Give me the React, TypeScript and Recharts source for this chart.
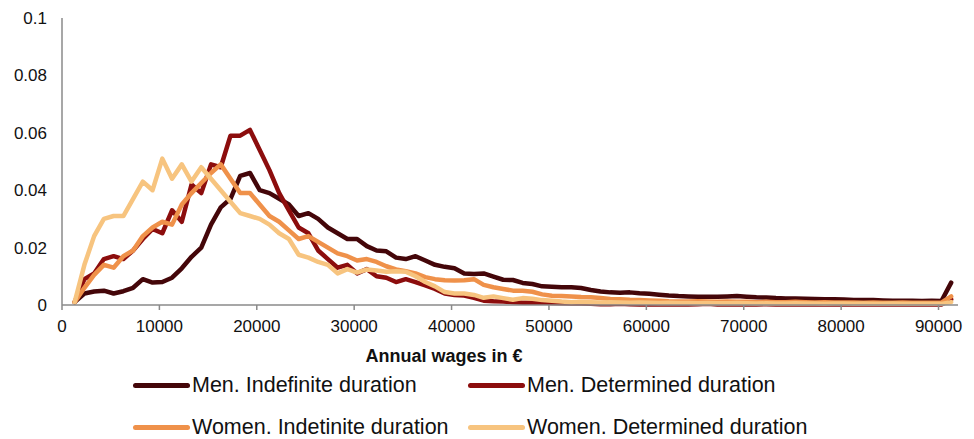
import { LineChart, Line, XAxis, YAxis } from "recharts";

// wage bins (€), one point per 1000 €
const wages = [
  1300, 2300, 3300, 4300, 5300, 6300, 7300, 8300, 9300, 10300,
  11300, 12300, 13300, 14300, 15300, 16300, 17300, 18300, 19300, 20300,
  21300, 22300, 23300, 24300, 25300, 26300, 27300, 28300, 29300, 30300,
  31300, 32300, 33300, 34300, 35300, 36300, 37300, 38300, 39300, 40300,
  41300, 42300, 43300, 44300, 45300, 46300, 47300, 48300, 49300, 50300,
  51300, 52300, 53300, 54300, 55300, 56300, 57300, 58300, 59300, 60300,
  61300, 62300, 63300, 64300, 65300, 66300, 67300, 68300, 69300, 70300,
  71300, 72300, 73300, 74300, 75300, 76300, 77300, 78300, 79300, 80300,
  81300, 82300, 83300, 84300, 85300, 86300, 87300, 88300, 89300, 90300,
  91300,
];

const menIndef = [
  0.001, 0.004, 0.0047, 0.005, 0.004, 0.0048, 0.006, 0.009, 0.0078, 0.008,
  0.0095, 0.0128, 0.0168, 0.02, 0.028, 0.034, 0.037, 0.045, 0.046, 0.04,
  0.039, 0.037, 0.035, 0.031, 0.032, 0.03, 0.027, 0.025, 0.023, 0.023,
  0.0205, 0.019, 0.0187, 0.0165, 0.016, 0.017, 0.0155, 0.014, 0.0133, 0.0128,
  0.011, 0.0108, 0.011, 0.0099, 0.0088, 0.0087, 0.0077, 0.0073, 0.0065, 0.0064,
  0.0062, 0.0062, 0.0059, 0.0052, 0.0047, 0.0044, 0.0043, 0.0044, 0.0041, 0.0039,
  0.0036, 0.0033, 0.0031, 0.003, 0.0029, 0.0029, 0.0029, 0.003, 0.0031, 0.0029,
  0.0027, 0.0026, 0.0024, 0.0023, 0.0023, 0.0022, 0.0021, 0.002, 0.002, 0.0019,
  0.0017, 0.0017, 0.0017, 0.0016, 0.0015, 0.0015, 0.0015, 0.0014, 0.0015, 0.0014,
  0.0078,
];

const menDet = [
  0.001, 0.009, 0.011, 0.016, 0.017, 0.016, 0.019, 0.023, 0.0265, 0.025,
  0.033, 0.029, 0.042, 0.039, 0.049, 0.048, 0.059, 0.059, 0.061, 0.054,
  0.047, 0.039, 0.033, 0.027, 0.025, 0.019, 0.016, 0.013, 0.014, 0.011,
  0.0125, 0.01, 0.0095, 0.008, 0.009, 0.008, 0.0068, 0.0056, 0.004, 0.0035,
  0.0033, 0.0025, 0.0015, 0.0013, 0.0012, 0.001, 0.0008, 0.0008, 0.0009, 0.0007,
  0.0006, 0.0005, 0.0005, 0.0004, 0.0003, 0.0003, 0.0004, 0.0003, 0.0002, 0.0002,
  0.0003, 0.0002, 0.0003, 0.0002, 0.0003, 0.0004, 0.0002, 0.0003, 0.0002, 0.0003,
  0.0002, 0.0003, 0.0002, 0.0002, 0.0003, 0.0002, 0.0002, 0.0003, 0.0002, 0.0002,
  0.0003, 0.0002, 0.0002, 0.0003, 0.0002, 0.0002, 0.0002, 0.0003, 0.0002, 0.0002,
  0.002,
];

const womenIndef = [
  0.001, 0.006, 0.0105, 0.014, 0.013, 0.017, 0.019, 0.024, 0.027, 0.029,
  0.028, 0.035, 0.039, 0.0425, 0.046, 0.049, 0.044, 0.039, 0.039, 0.035,
  0.031, 0.029, 0.026, 0.023, 0.024, 0.022, 0.02, 0.018, 0.017, 0.0155,
  0.016, 0.015, 0.0135, 0.0124, 0.0118, 0.011, 0.0097, 0.009, 0.0086, 0.0085,
  0.0086, 0.009, 0.007, 0.0062, 0.0056, 0.005, 0.005, 0.0046, 0.0037, 0.0032,
  0.0031, 0.003, 0.0028, 0.0027, 0.0024, 0.0021, 0.002, 0.0018, 0.0017, 0.0016,
  0.0015, 0.0013, 0.0012, 0.0012, 0.0013, 0.0012, 0.0011, 0.0012, 0.0011, 0.0011,
  0.001, 0.0011, 0.001, 0.001, 0.0011, 0.001, 0.0009, 0.001, 0.0009, 0.0009,
  0.0009, 0.0008, 0.0009, 0.0008, 0.0008, 0.0009, 0.0008, 0.0008, 0.0008, 0.0008,
  0.003,
];

const womenDet = [
  0.001, 0.014, 0.024, 0.03, 0.031, 0.031, 0.037, 0.043, 0.04, 0.051,
  0.044, 0.049, 0.043, 0.048, 0.044, 0.04, 0.036, 0.032, 0.031, 0.03,
  0.028, 0.025, 0.023, 0.0175, 0.0165, 0.015, 0.014, 0.011, 0.0125, 0.0113,
  0.0124, 0.012, 0.0116, 0.0118, 0.0116, 0.01, 0.008, 0.0065, 0.0045, 0.004,
  0.004, 0.0035, 0.0025, 0.003, 0.0024, 0.0018, 0.0024, 0.0022, 0.0017, 0.0015,
  0.0012, 0.001, 0.0011, 0.001, 0.0009, 0.001, 0.0009, 0.0008, 0.0009, 0.0008,
  0.0007, 0.0008, 0.0007, 0.0007, 0.0006, 0.0007, 0.0006, 0.0006, 0.0007, 0.0006,
  0.0005, 0.0006, 0.0005, 0.0005, 0.0006, 0.0005, 0.0005, 0.0004, 0.0005, 0.0005,
  0.0004, 0.0005, 0.0004, 0.0004, 0.0005, 0.0004, 0.0004, 0.0004, 0.0004, 0.0004,
  0.001,
];

const xTicks = [0, 10000, 20000, 30000, 40000, 50000, 60000, 70000, 80000, 90000];
const yTicks = [0, 0.02, 0.04, 0.06, 0.08, 0.1];

const series = [
  { key: "menIndef", name: "Men. Indefinite duration", color: "#440609" },
  { key: "menDet", name: "Men. Determined duration", color: "#8c0d0d" },
  { key: "womenIndef", name: "Women. Indetinite duration", color: "#ef914a" },
  { key: "womenDet", name: "Women. Determined duration", color: "#f7c47f" },
];

const data = wages.map((wage, i) => ({
  wage,
  menIndef: menIndef[i],
  menDet: menDet[i],
  womenIndef: womenIndef[i],
  womenDet: womenDet[i],
}));

const font = '"Liberation Sans", Arial, sans-serif';
const axisColor = "#8a8a8a";

export default function App() {
  return (
    <div style={{ position: "relative", width: 960, height: 431, fontFamily: font }}>
      <LineChart width={960} height={360} data={data} margin={{ top: 10, right: 10, bottom: 3, left: 0 }}>
        <XAxis
          dataKey="wage"
          type="number"
          domain={[0, 92000]}
          ticks={xTicks}
          interval={0}
          height={60}
          tickSize={5}
          tickMargin={10}
          axisLine={{ stroke: axisColor, strokeWidth: 1.5 }}
          tickLine={{ stroke: axisColor, strokeWidth: 1.5 }}
          tick={{ fill: "#111", fontSize: 17, fontFamily: font }}
          label={{
            value: "Annual wages in €",
            position: "insideBottom",
            offset: 3,
            dx: -66,
            style: { fill: "#111", fontSize: 18, fontWeight: "bold", fontFamily: font },
          }}
        />
        <YAxis
          domain={[0, 0.1]}
          ticks={yTicks}
          interval={0}
          width={54}
          tickLine={false}
          tickSize={6}
          tickMargin={9}
          axisLine={{ stroke: axisColor, strokeWidth: 1.5 }}
          tick={{ fill: "#111", fontSize: 17, fontFamily: font }}
        />
        {series.map((s) => (
          <Line
            key={s.key}
            type="linear"
            dataKey={s.key}
            name={s.name}
            stroke={s.color}
            strokeWidth={4.5}
            strokeLinejoin="round"
            strokeLinecap="round"
            dot={false}
            activeDot={false}
            isAnimationActive={false}
          />
        ))}
      </LineChart>

      {series.map((s, i) => (
        <div
          key={s.key}
          style={{
            position: "absolute",
            left: i % 2 === 0 ? 125 : 460,
            top: (i < 2 ? 377 : 419) - 15,
            height: 30,
            display: "flex",
            alignItems: "center",
            whiteSpace: "nowrap",
            fontSize: 21.5,
            color: "#111",
          }}
        >
          <span style={{ display: "inline-block", width: 57, height: 5, borderRadius: 3, background: s.color }} />
          <span style={{ marginLeft: 2 }}>{s.name}</span>
        </div>
      ))}
    </div>
  );
}
